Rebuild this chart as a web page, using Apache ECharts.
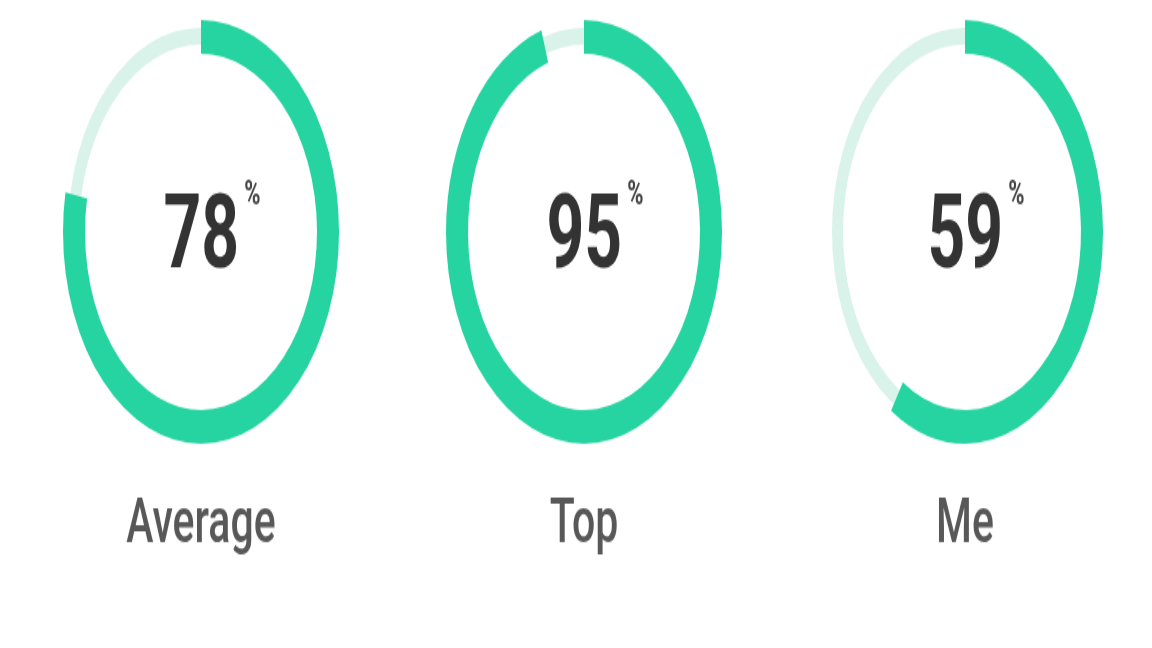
<!DOCTYPE html>
<html>
<head>
<meta charset="utf-8">
<script src="https://cdn.jsdelivr.net/npm/echarts@6/dist/echarts.min.js"></script>
<style>
html,body{margin:0;padding:0;background:#fff;}
#wrap{position:relative;width:1152px;height:648px;overflow:hidden;background:#fff;}
#main{position:absolute;left:0;top:0;width:1152px;height:422px;transform:scaleY(1.5355);transform-origin:0 0;}
</style>
</head>
<body>
<div id="wrap"><div id="main"></div></div>
<script>
// ---- data ----
const categories = ['Average', 'Top', 'Me'];
const values = [78, 95, 59];
const maxValue = 100;
const unitLabel = '%';

// ---- layout / style ----
const centersX = [201, 584, 965];
const centerY = 151;
const outerR = 138, innerR = 116;
const trackR = [122, 133];
const green = '#26d4a1';
const track = '#d9f3ea';

const chart = echarts.init(document.getElementById('main'), null, {renderer: 'canvas', width: 1152, height: 422});

const series = [];
categories.forEach((name, i) => {
  series.push({
    type: 'pie',
    name: name + ' track',
    center: [centersX[i], centerY],
    radius: trackR,
    silent: true,
    animation: false,
    label: {show: false},
    labelLine: {show: false},
    itemStyle: {color: track},
    data: [{value: maxValue, name: name + ' track'}]
  });
  series.push({
    type: 'pie',
    name: name,
    center: [centersX[i], centerY],
    radius: [innerR, outerR],
    startAngle: 90,
    clockwise: true,
    silent: true,
    animation: false,
    labelLine: {show: false},
    label: {show: false},
    data: [
      {
        value: values[i], name: name,
        itemStyle: {color: green},
        label: {
          show: true,
          position: 'center',
          formatter: () => '{num|' + values[i] + '}{pct|' + unitLabel + '}',
          rich: {
            num: {fontFamily: 'Roboto', fontSize: 66, fontWeight: 'bold', color: '#333333', padding: [12, 0, 0, 22]},
            pct: {fontFamily: 'Roboto', fontSize: 22, fontWeight: 'bold', color: '#444444', padding: [0, 0, 48, 5]}
          }
        }
      },
      {value: maxValue - values[i], name: 'rest', itemStyle: {color: 'rgba(0,0,0,0)'}, label: {show: false}}
    ]
  });
});

const graphic = categories.map((name, i) => ({
  type: 'text',
  x: centersX[i],
  y: 343,
  silent: true,
  style: {
    text: name,
    fontFamily: 'Roboto',
    fontSize: 41,
    fontWeight: 500,
    fill: '#585858',
    textAlign: 'center',
    textVerticalAlign: 'middle'
  }
}));

chart.setOption({
  backgroundColor: '#ffffff',
  animation: false,
  series: series,
  graphic: graphic
});
</script>
</body>
</html>
